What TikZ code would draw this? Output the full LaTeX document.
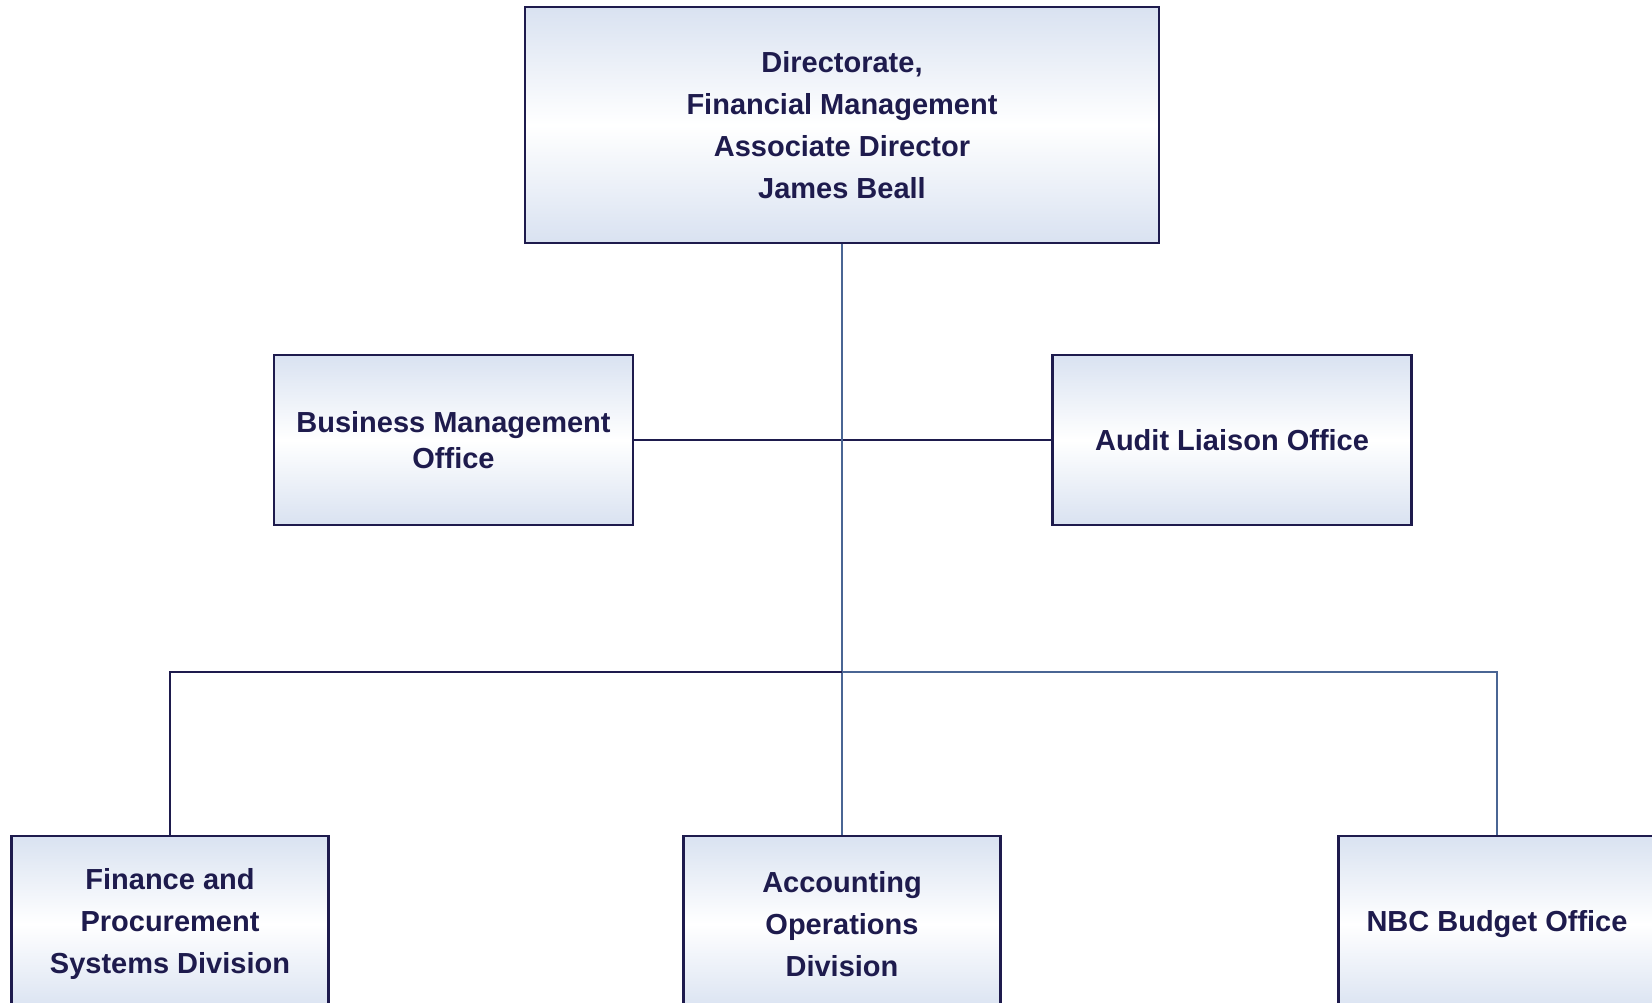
\documentclass[tikz,border=0pt]{standalone}
\usepackage{fontspec}
\setmainfont{Liberation Sans}
\definecolor{navy}{HTML}{1E1B4D}
\definecolor{steel}{HTML}{4A6594}
\definecolor{paleblue}{HTML}{D9E2F1}
\tikzset{
  unit/.style={draw=navy, line width=2.3pt, top color=paleblue, bottom color=paleblue,
    middle color=white, text=navy, align=center, inner sep=0pt,
    font=\bfseries\fontsize{29}{42}\selectfont},
  link/.style={line width=2pt},
}

\begin{document}
\begin{tikzpicture}[x=1pt,y=-1pt]

\useasboundingbox (0,0) rectangle (1652,1003);
\clip (0,0) rectangle (1652,1003);

\node[unit, minimum width=634, minimum height=236] (dir) at (842,125) {Directorate,\\Financial Management\\Associate Director\\James Beall};
\node[unit, minimum width=359, minimum height=170, font=\bfseries\fontsize{29}{36}\selectfont] (bmo) at (453.5,440) {Business Management\\Office};
\node[unit, minimum width=359, minimum height=170] (alo) at (1232,440) {Audit Liaison Office};
\node[unit, minimum width=317, minimum height=176] (fps) at (170,924) {Finance and\\Procurement\\Systems Division};
\node[unit, minimum width=317, minimum height=176] (aod) at (842,924) {Accounting\\Operations\\Division};
\node[unit, minimum width=317, minimum height=176] (nbc) at (1497,924) {NBC Budget Office};

\coordinate (fork) at (842,672);

\draw[link,navy] (bmo.east) -- (alo.west);
\draw[link,steel] (dir.south) -- (aod.north);
\draw[link,navy] (fork) -| (fps.north);
\draw[link,steel] (fork) -| (nbc.north);

\end{tikzpicture}
\end{document}
